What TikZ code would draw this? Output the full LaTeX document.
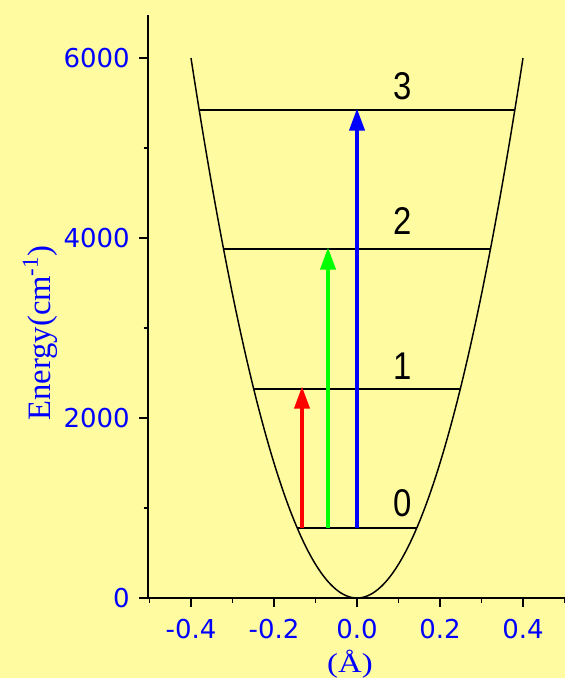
\documentclass[tikz,border=0pt]{standalone}
\usepackage{fontspec}
\setmainfont{Liberation Serif}
\newfontfamily\ticksfont{DejaVu Sans}
\newfontfamily\levfont{Liberation Sans}
\usetikzlibrary{arrows.meta}
\definecolor{bgyellow}{RGB}{255,251,160}
\definecolor{axblue}{RGB}{0,0,255}
\definecolor{arrred}{RGB}{255,0,0}
\definecolor{arrgreen}{RGB}{0,255,0}
\definecolor{arrblue}{RGB}{0,0,255}
\tikzset{
  axisline/.style={line width=1.9pt, black},
  majortick/.style={line width=1.5pt, black},
  minortick/.style={line width=1.3pt, black},
  levelline/.style={line width=1.4pt, black},
  potential/.style={line width=1.1pt, black},
  transition/.style={line width=3.6pt, -{Triangle[length=17pt,width=11pt]}},
  yticklabel/.style={anchor=east, text=axblue, inner sep=0pt, font=\ticksfont\fontsize{19.5}{20}\selectfont},
  xticklabel/.style={anchor=center, text=axblue, inner sep=0pt, font=\ticksfont\fontsize{19.5}{20}\selectfont},
  levlabel/.style={anchor=center, text=black, inner sep=0pt, font=\levfont\fontsize{29}{29}\selectfont},
  axlabel/.style={text=axblue, inner sep=0pt}
}
\begin{document}
\begin{tikzpicture}[x=0.75pt,y=-0.75pt]
\fill[bgyellow] (0,0) rectangle (565,678);
\useasboundingbox (0,0) rectangle (565,678);

% axes
\coordinate (ytop) at (148,15);
\coordinate (orig) at (148,598);
\coordinate (xend) at (565,598);
\draw[axisline] (ytop) -- (orig) -- (xend);

% y ticks
\foreach \yy/\lab in {598/0, 418/2000, 238/4000, 58/6000} {
  \draw[majortick] (139,\yy) -- (148,\yy);
  \node[yticklabel] (yl\lab) at (130,\yy) {\lab};
}
\foreach \yy in {508, 328, 148} {
  \draw[minortick] (143.5,\yy) -- (148,\yy);
}
% x ticks
\foreach \xx/\lab/\nm in {191/-0.4/a, 274/-0.2/b, 357/0.0/c, 440/0.2/d, 523/0.4/e} {
  \draw[majortick] (\xx,598) -- (\xx,607);
  \node[xticklabel] (xl\nm) at (\xx,629) {\lab};
}
\foreach \xx in {149.5, 232.5, 315.5, 398.5, 481.5, 564.5} {
  \draw[minortick] (\xx,598) -- (\xx,603);
}

% axis labels
\node[axlabel, rotate=90, anchor=base, font=\fontsize{24.5}{25}\selectfont] (ylab) at (50,333) {Energy(cm\textsuperscript{-1})};
\node[axlabel, anchor=base, font=\fontsize{20.5}{21}\selectfont] (xlab) at (350,672) {\scalebox{1.2}[1]{(Å)}};

% potential
\draw[potential] plot[domain=-166:166, samples=120, smooth] ({357+\x}, {598-1.95966*(\x/10)*(\x/10)});

% levels
\foreach \n/\yy/\hw in {0/528.25/59.7, 1/388.75/103.3, 2/249.25/133.4, 3/109.75/157.8} {
  \coordinate (L\n l) at ({357-\hw},\yy);
  \coordinate (L\n r) at ({357+\hw},\yy);
  \draw[levelline] (L\n l) -- (L\n r);
}
\node[levlabel] (n0) at (403,503) {\scalebox{0.85}[1]{0}};
\node[levlabel] (n1) at (403,366) {\scalebox{0.85}[1]{1}};
\node[levlabel] (n2) at (403,221) {\scalebox{0.85}[1]{2}};
\node[levlabel] (n3) at (403,86) {\scalebox{0.85}[1]{3}};

% transitions
\coordinate (r0) at (302,528.25);
\coordinate (r1) at (302,386);
\coordinate (g0) at (328,528.25);
\coordinate (g1) at (328,247);
\coordinate (b0) at (357,528.25);
\coordinate (b1) at (357,108);
\draw[transition, arrred] (r0) -- (r1);
\draw[transition, arrgreen] (g0) -- (g1);
\draw[transition, arrblue] (b0) -- (b1);
\end{tikzpicture}
\end{document}
